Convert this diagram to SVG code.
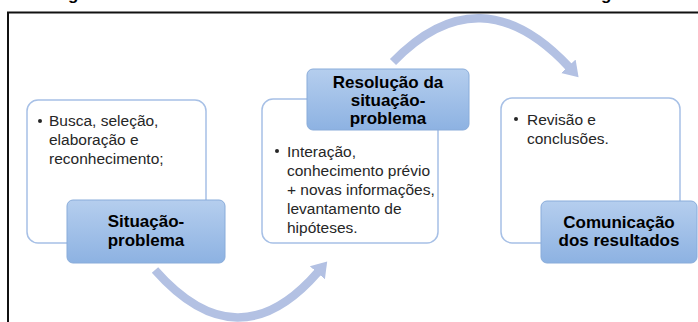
<svg xmlns="http://www.w3.org/2000/svg" width="698" height="322" viewBox="0 0 698 322">
<defs>
<linearGradient id="blueGrad" x1="0" y1="0" x2="0" y2="1">
<stop offset="0" stop-color="#b5ceee"/>
<stop offset="1" stop-color="#8db2e2"/>
</linearGradient>
<marker id="ah" markerUnits="userSpaceOnUse" markerWidth="22" markerHeight="22" refX="1" refY="11" orient="auto" viewBox="0 0 22 22">
<path d="M0,1 L15,11 L0,21 z" fill="#b3c1e3"/>
</marker>
</defs>
<style>
.frame{fill:none;stroke:#111;stroke-width:2}
.card{fill:#fff;stroke:#a7c0e6;stroke-width:1.5}
.label{fill:url(#blueGrad);stroke:#89acda;stroke-width:1}
.lt{font-family:"Liberation Sans",Arial,sans-serif;font-weight:bold;font-size:17px;fill:#000;text-anchor:middle}
.bt{font-family:"Liberation Sans",Arial,sans-serif;font-size:15.5px;fill:#262626}
.arc{fill:none;stroke:#b3c1e3;stroke-width:8.5;marker-end:url(#ah)}
.frag{font-family:"Liberation Sans",Arial,sans-serif;font-weight:bold;font-size:17px;fill:#000}
</style>
<rect width="698" height="322" fill="#fff"/>
<text class="frag" x="68" y="-0.5">g</text>
<text class="frag" x="601" y="-0.5">g</text>
<path class="frame" d="M8,322 V12.5 H698"/>

<g id="connectors">
<path class="arc" d="M155,270 Q238,364 318,272"/>
<path class="arc" d="M393,62 Q480,-28 569,67"/>
</g>

<g id="node-situacao">
<rect class="card" x="27" y="100" width="179" height="143" rx="11"/>
<circle cx="40" cy="121" r="2" fill="#262626"/>
<text class="bt"><tspan x="49" y="126">Busca, seleção,</tspan><tspan x="49" y="145">elaboração e</tspan><tspan x="49" y="164">reconhecimento;</tspan></text>
<rect class="label" x="67" y="200" width="158" height="63" rx="6"/>
<text class="lt"><tspan x="146" y="227">Situação-</tspan><tspan x="146" y="246">problema</tspan></text>
</g>

<g id="node-resolucao">
<rect class="card" x="262" y="99" width="176" height="144" rx="11"/>
<circle cx="277" cy="151" r="2" fill="#262626"/>
<text class="bt"><tspan x="287" y="157">Interação,</tspan><tspan x="287" y="176">conhecimento prévio</tspan><tspan x="287" y="195">+ novas informações,</tspan><tspan x="287" y="214">levantamento de</tspan><tspan x="287" y="233">hipóteses.</tspan></text>
<rect class="label" x="307" y="69" width="162" height="61" rx="6"/>
<text class="lt"><tspan x="388" y="88">Resolução da</tspan><tspan x="388" y="106">situação-</tspan><tspan x="388" y="124">problema</tspan></text>
</g>

<g id="node-comunicacao">
<rect class="card" x="501" y="98" width="179" height="145" rx="11"/>
<circle cx="516" cy="119" r="2" fill="#262626"/>
<text class="bt"><tspan x="527" y="125">Revisão e</tspan><tspan x="527" y="144">conclusões.</tspan></text>
<rect class="label" x="541" y="201" width="156" height="62" rx="6"/>
<text class="lt"><tspan x="619" y="228">Comunicação</tspan><tspan x="619" y="246">dos resultados</tspan></text>
</g>
</svg>
